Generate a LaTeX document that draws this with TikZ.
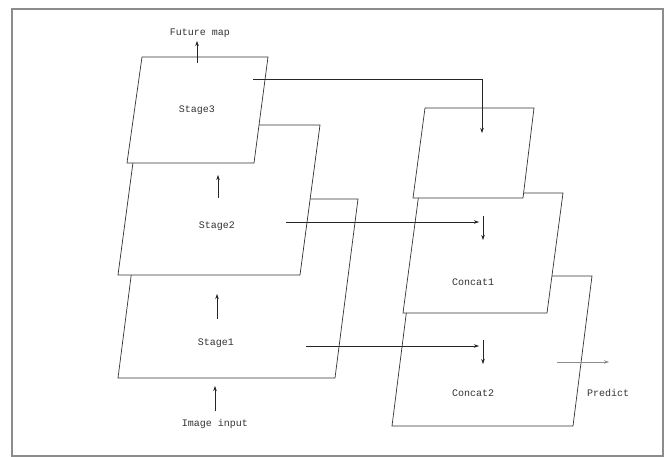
\documentclass[tikz,border=0pt]{standalone}
\usepackage{fontspec}
\setmonofont{Liberation Mono}
\usetikzlibrary{arrows.meta}
\tikzset{
  panel/.style={draw=black!80, line width=0.7pt, fill=white},
  lbl/.style={font=\ttfamily\fontsize{10}{12}\selectfont, text=black!80, inner sep=1pt},
  conn/.style={draw=black!85, line width=0.6pt, -{Stealth[length=5pt,width=3.5pt]}},
  plain/.style={draw=black!85, line width=0.6pt},
  frame/.style={draw=black!45, line width=1.2pt},
  faint/.style={draw=black!45, line width=0.6pt, -{Stealth[length=5pt,width=3.5pt]}}
}
\begin{document}
\begin{tikzpicture}[x=1pt,y=-1pt]
\useasboundingbox (0,0) rectangle (670,457);
\fill[white] (0,0) rectangle (670,457);
% frame
\draw[frame] (12,457) -- (12,9) -- (663,9) -- (663,457);
\draw[frame] (12,456) -- (663,456);
% left stack (back to front)
\draw[panel] (141,199) -- (358,199) -- (335,378) -- (118,378) -- cycle;
\draw[panel] (138,125) -- (320,125) -- (300,275) -- (118,275) -- cycle;
\draw[panel] (142,57) -- (268,57) -- (254,163) -- (127,163) -- cycle;
% right stack (back to front)
\draw[panel] (411,276) -- (592,276) -- (573,426) -- (392,426) -- cycle;
\draw[panel] (419,193) -- (563,193) -- (547,313) -- (403,313) -- cycle;
\draw[panel] (425,108) -- (534,108) -- (523,198) -- (413,198) -- cycle;
% labels
\node[lbl] (future) at (200,33) {Future map};
\node[lbl] (s3) at (197,110) {Stage3};
\node[lbl] (s2) at (217,226) {Stage2};
\node[lbl] (s1) at (216,343) {Stage1};
\node[lbl] (img) at (215,424) {Image input};
\node[lbl] (c1) at (473,282) {Concat1};
\node[lbl] (c2) at (473,393) {Concat2};
\node[lbl] (pred) at (608,393) {Predict};
% coordinates
\coordinate (f0) at (197,63);   \coordinate (f1) at (197,41);
\coordinate (u20) at (218,198); \coordinate (u21) at (218,175);
\coordinate (u10) at (217,319); \coordinate (u11) at (217,294);
\coordinate (i0) at (215,411);  \coordinate (i1) at (215,386);
\coordinate (a30) at (253,79);  \coordinate (a31) at (482,79); \coordinate (a32) at (482,133);
\coordinate (a20) at (286,222); \coordinate (a21) at (479,222);
\coordinate (t20) at (483,216); \coordinate (t21) at (483,240);
\coordinate (a10) at (306,346); \coordinate (a11) at (479,346);
\coordinate (t10) at (483,340); \coordinate (t11) at (483,364);
\coordinate (p0) at (557,362);  \coordinate (p1) at (609,362);
% connectors
\draw[conn] (f0) -- (f1);
\draw[conn] (u20) -- (u21);
\draw[conn] (u10) -- (u11);
\draw[conn] (i0) -- (i1);
\draw[conn] (a30) -- (a31) -- (a32);
\draw[conn] (a20) -- (a21);
\draw[conn] (t20) -- (t21);
\draw[conn] (a10) -- (a11);
\draw[conn] (t10) -- (t11);
\draw[faint] (p0) -- (p1);
\end{tikzpicture}
\end{document}
